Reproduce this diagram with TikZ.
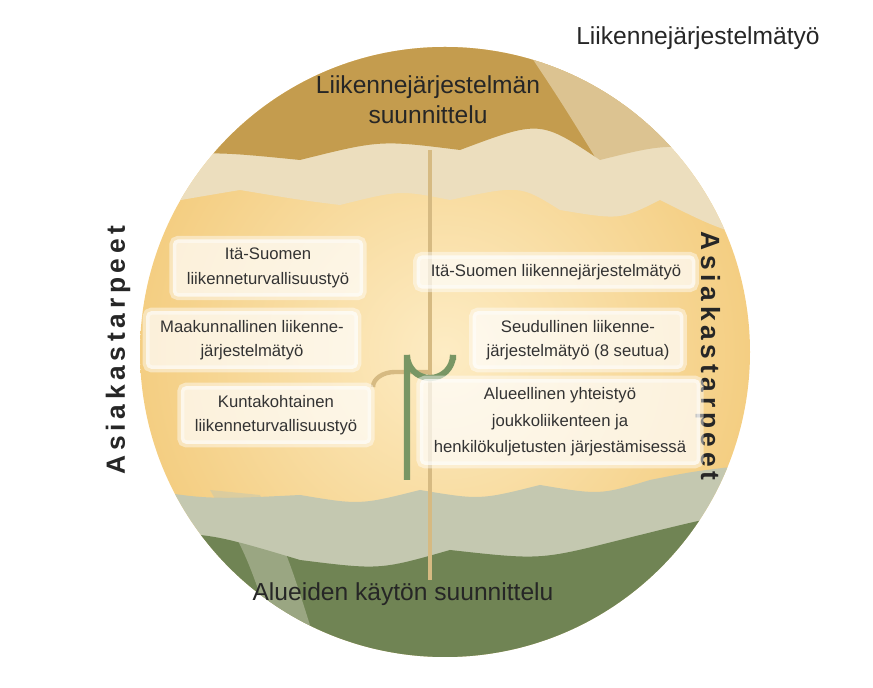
\documentclass[tikz,border=0pt]{standalone}
\usepackage{fontspec}
\setmainfont{Liberation Sans}
\definecolor{discfill}{RGB}{253,236,196}
\definecolor{discedge}{RGB}{244,206,130}
\definecolor{topdark}{RGB}{196,156,78}
\definecolor{toplight}{RGB}{236,222,190}
\definecolor{botdark}{RGB}{112,132,84}
\definecolor{botlight}{RGB}{196,200,176}
\definecolor{shaft}{RGB}{214,186,130}
\definecolor{hookgreen}{RGB}{120,150,100}
\tikzset{
  infobox/.style={fill=white, fill opacity=0.7, text opacity=1, rounded corners=3pt,
    draw=white, draw opacity=0.45, line width=4pt,
    align=center, font=\fontsize{9.5}{14}\selectfont, text=black!80, inner xsep=8pt, inner ysep=5pt},
  bigtext/.style={font=\fontsize{14}{17}\selectfont, text=black!85, align=center},
  sidetext/.style={font=\fontsize{15}{17}\selectfont\bfseries\addfontfeatures{LetterSpace=18}, text=black!85}
}
\begin{document}
\begin{tikzpicture}[x=0.02cm, y=-0.02cm]
\useasboundingbox (0,0) rectangle (873,688);
% disc
\shade[inner color=discfill, outer color=discedge] (445,352) circle (305);
\begin{scope}
  \clip (445,352) circle (305);
  % top canopy
  \fill[toplight] (100,0) -- (100,215) .. controls (180,200) .. (240,190)
    .. controls (300,200) .. (340,205) .. controls (400,190) .. (450,200)
    .. controls (520,185) .. (560,210) .. controls (620,220) .. (660,200)
    .. controls (720,230) .. (800,250) -- (800,0) -- cycle;
  \fill[topdark] (100,0) -- (100,170) .. controls (200,150) .. (300,160)
    .. controls (380,140) .. (460,150) .. controls (540,120) .. (600,160)
    .. controls (680,140) .. (800,180) -- (800,0) -- cycle;
  \fill[toplight, opacity=0.6] (520,40) .. controls (560,100) .. (600,165)
    -- (660,200) .. controls (700,150) .. (720,100) -- (640,40) -- cycle;
  % bottom canopy
  \fill[botlight] (100,700) -- (100,480) .. controls (200,500) .. (300,495)
    .. controls (360,505) .. (420,490) .. controls (480,500) .. (540,485)
    .. controls (600,495) .. (650,480) .. controls (700,470) .. (800,460)
    -- (800,700) -- cycle;
  \fill[botdark] (100,700) -- (100,540) .. controls (200,530) .. (300,560)
    .. controls (380,570) .. (450,550) .. controls (540,560) .. (620,540)
    .. controls (700,520) .. (800,500) -- (800,700) -- cycle;
  \fill[botlight, opacity=0.5] (210,490) .. controls (250,560) .. (290,690)
    -- (330,690) .. controls (290,560) .. (260,495) -- cycle;
\end{scope}
% shaft and hooks
\draw[shaft, line width=2pt] (430,150) -- (430,580);
\draw[shaft, line width=2.5pt] (430,372) -- (395,372) arc (270:180:22 and 15);
\draw[hookgreen, line width=3.5pt] (407,480) -- (407,355) arc (180:0:23) -- (453,360);
% labels
\node[bigtext] (title) at (698,38) {Liikennejärjestelmätyö};
\node[bigtext] (plan) at (428,100) {Liikennejärjestelmän\\suunnittelu};
\node[bigtext] (land) at (403,594) {Alueiden käytön suunnittelu};
\node[sidetext, rotate=90] (needsL) at (118,350) {Asiakastarpeet};
\node[sidetext, rotate=-90] (needsR) at (708,356) {Asiakastarpeet};
% boxes
\node[infobox] (safetyIS) at (268,268) {Itä-Suomen\\liikenneturvallisuustyö};
\node[infobox] (regional) at (252,340) {Maakunnallinen liikenne-\\järjestelmätyö};
\node[infobox] (municipal) at (276,415) {Kuntakohtainen\\liikenneturvallisuustyö};
\node[infobox] (systemIS) at (556,272) {Itä-Suomen liikennejärjestelmätyö};
\node[infobox] (subregion) at (578,340) {Seudullinen liikenne-\\järjestelmätyö (8 seutua)};
\node[infobox, font=\fontsize{9.5}{15}\selectfont] (transit) at (560,422) {Alueellinen yhteistyö\\joukkoliikenteen ja\\henkilökuljetusten järjestämisessä};
\end{tikzpicture}
\end{document}
